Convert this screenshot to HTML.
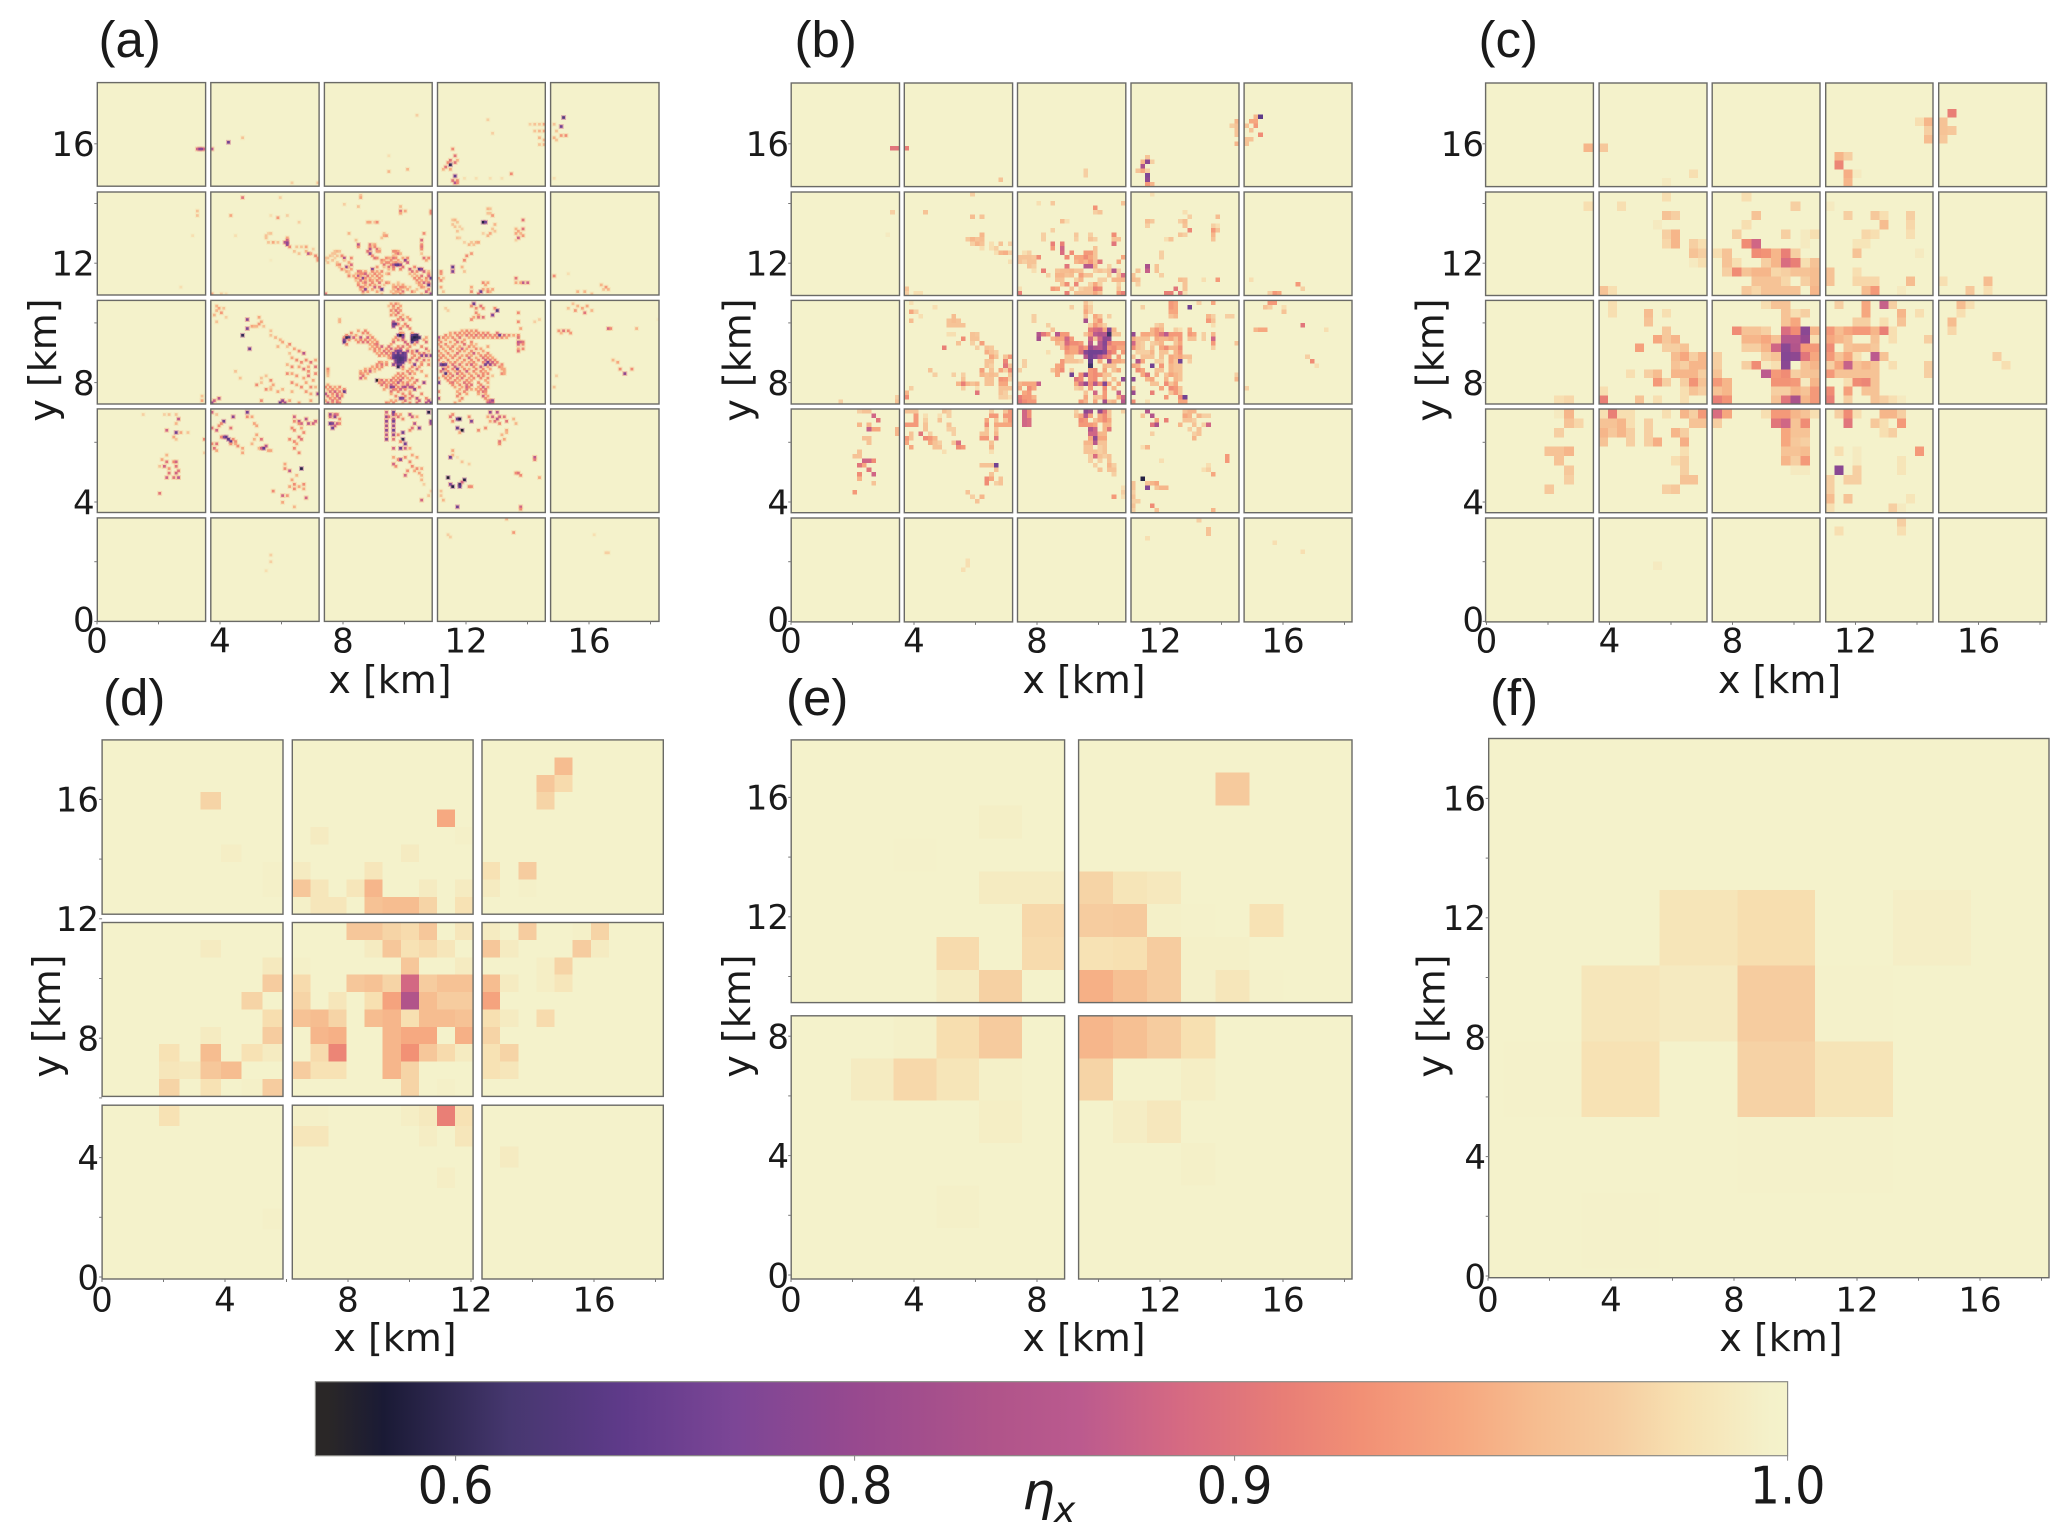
<!DOCTYPE html>
<html lang="en">
<head>
<meta charset="utf-8">
<title>Heatmaps of eta-x at six coarse-graining levels</title>
<style>
html,body{margin:0;padding:0;background:#fff}
svg{display:block}
text{fill:#1a1a1a;font-family:"DejaVu Sans","Liberation Sans",sans-serif}
</style>
</head>
<body>
<svg id="figure" xmlns="http://www.w3.org/2000/svg" width="2067" height="1540" viewBox="0 0 2067 1540">
<defs><linearGradient id="cbar-gradient" x1="0" y1="0" x2="1" y2="0"></linearGradient></defs>
<rect width="2067" height="1540" fill="#fff"/>
</svg>
<script>
// ---------- chart data ----------
const xTickLabels = [0, 4, 8, 12, 16];
const yTickLabels = [0, 4, 8, 12, 16];
const minorTickKm = [2, 6, 10, 14, 18];
const cbarTicks = [0.6, 0.8, 0.9, 1.0];
const cbarEta = [0.536, 0.564, 0.627, 0.684, 0.74, 0.8, 0.837, 0.859, 0.886, 0.909, 0.923, 0.941, 0.955, 0.969, 0.981, 0.997, 1.0];
const cbarColors = ['#2a2727','#1a1a35','#46376f','#5f3a8a','#7c4696','#97498f','#b0548a','#bb5a8e','#d66a82','#e87e76','#f29075','#f6a880','#f6bd90','#f6cda0','#f7e1b2','#f4f1ca','#f4f2cb'];

// Heatmap cells per block: [blockCol, blockRow, rows]; each row = [rowIndex, col, etaPercent, col, etaPercent, ...]
const panelA = [
[0,0,[[29,42,88,43,78,44,78,45,88]]],
[1,0,[[29,0,86],[26,7,72],[24,13,96],[44,34,97,45,96]]],
[2,0,[[14,39,97],[39,27,95],[38,35,95],[32,27,98]]],
[3,0,[[29,6,92],[32,7,90],[34,5,90,8,95],[35,7,90,4,92],[36,5,60],[37,3,90],[38,2,95,5,94],[41,7,70],[43,6,90,8,92],[44,7,85,8,92],[42,11,98,16,98,22,98,27,98],[40,31,92],[16,21,97],[22,23,97],[18,39,97,41,96,43,96,45,94],[21,41,96,43,95,45,94],[24,43,95],[25,45,95],[27,43,96,45,95]]],
[4,0,[[15,5,66],[19,4,72],[18,1,96],[21,2,96],[24,1,95],[25,2,96],[23,6,92,4,93],[42,1,98]]],
[0,1,[[10,42,96],[8,42,96],[19,40,98],[42,35,98]]],
[1,1,[[2,13,90,29,97],[10,8,94,25,98,32,97],[11,28,93],[13,37,97],[19,10,98,23,96],[18,24,97,25,96],[20,23,96,32,94],[22,24,96,26,94,28,96,31,85,32,78],[21,32,88],[23,32,80],[24,33,92,36,96,38,96,40,94],[25,43,97],[26,35,96,40,95],[27,37,96,41,86,42,94],[28,44,92],[29,45,93],[30,25,99,45,93],[45,0,94,4,97,6,98]]],
[2,1,[[1,15,96],[2,15,94],[5,8,97],[6,14,96,32,95],[8,32,90,34,94,45,92],[9,32,94,45,92],[13,18,94,19,94,21,96,22,92],[18,10,95,25,96,42,92],[19,25,94,26,93],[20,24,96],[21,13,96,41,89],[23,14,85,19,90,20,96,21,94,41,92],[24,14,92,19,92,21,92,41,90],[25,19,85,22,90,23,96,41,92],[26,4,96,5,95,6,96,18,90,22,93,23,93,29,92,30,92,31,94],[27,3,96,4,96,19,78,30,93,31,90,32,95,41,96],[28,2,96,3,97,5,96,7,92,20,92,29,95,30,96],[29,0,96,1,96,4,97,8,85,11,92,21,90,22,92,26,92,27,94,28,95,29,90,30,92,33,94,35,92,42,90,44,92],[30,0,97,3,96,8,96,24,92,25,94,28,92,31,94,34,80,43,94],[31,1,96,5,96,10,94,24,94,26,92,27,92,29,94,30,92,32,95,35,88],[32,5,94,6,92,11,89,25,90,28,92,29,85,30,70,31,68,32,80],[33,6,96,9,80,10,95,22,93,25,96,27,90,29,90,33,90,38,92],[34,7,92,8,96,11,94,20,78,27,95,29,92,32,92,36,88,40,70,41,80],[35,9,94,10,96,14,90,15,92,17,94,20,92,22,94,24,92,37,90,39,92,42,88,44,95],[36,10,96,13,96,14,94,15,92,16,92,17,88,19,96,21,92,23,94,26,96,27,93,36,95,38,95,44,92],[37,10,92,12,94,14,86,15,94,18,90,20,94,22,92,24,94,37,96,39,94,41,90,44,88],[38,13,92,14,94,16,78,17,92,19,94,21,96,23,92,38,92,40,92,43,92,45,72],[39,13,96,15,90,17,94,19,92,20,94,22,92,24,95,39,92,41,94,43,94],[40,14,94,16,94,17,90,20,92,23,90,26,92,27,94,31,96,39,96,40,92,42,88,44,90],[41,14,92,17,94,19,92,21,94,25,96,29,95,31,95,33,94,40,94,41,94,44,70],[42,15,90,16,92,18,96,21,88,23,90,29,94,30,92,32,92,33,92,34,94,36,96,41,92,42,94],[43,15,94,17,78,20,94,24,70,29,95,31,90,32,94,35,94,39,96,44,92],[44,16,90,18,94,22,94,28,96,30,94,31,94,33,90,37,92,38,96,43,88],[45,0,90,16,96,24,96,29,94,30,96,32,92,33,96,41,96,45,80]]],
[3,1,[[7,21,95,22,96],[9,21,96,22,96],[10,23,93],[12,6,96,7,95,36,90],[13,8,96,19,58,20,72],[14,6,96,24,95],[15,7,96,9,97],[16,10,97,23,96,36,90,33,95],[17,8,96,24,96,34,94],[18,22,94,19,97,33,94,35,95],[19,21,95,36,93],[20,34,88,8,96,9,97],[21,33,97],[22,11,97,14,96,16,95,17,94],[23,13,95,15,96],[27,14,93],[28,12,92],[30,11,92],[33,10,95,6,70],[35,11,96,6,75,1,92],[36,1,93],[38,0,94,2,96,33,90],[39,1,92],[40,33,94,36,86,38,88,35,94,19,92,21,94],[41,20,94],[42,1,94,14,94],[43,19,94,21,94,23,94],[44,2,96,18,72,21,92,22,95,14,92],[45,17,90]]],
[4,1,[[37,1,92],[36,7,98],[44,11,95,14,95],[45,17,96],[41,21,95],[42,23,93],[43,24,95,22,96]]],
[1,2,[[2,2,95],[3,3,94,5,96],[4,2,95],[5,4,93],[6,1,95],[7,6,97,20,94],[8,15,78],[9,2,96,21,94],[10,20,93],[11,17,94,18,95,19,95,22,96],[12,15,75],[13,25,96],[15,13,60,25,96],[16,27,95],[17,29,95],[18,30,94],[19,33,92],[20,28,95,32,96],[21,16,72,35,94],[22,37,92],[23,39,85,33,96],[25,34,94],[26,36,92,40,92,44,94],[27,38,92,42,90],[28,32,95],[29,44,90,41,94,34,92,37,94],[30,39,90],[31,10,96,41,92],[32,44,92,32,92,34,94],[33,36,93,41,90,23,96],[34,12,96,21,96,39,94],[35,43,94,25,92],[36,21,96,34,92,40,94],[37,19,92,26,94,36,94],[38,25,96,38,92,42,92,44,95],[39,23,92,25,95,30,95],[40,28,94,34,95,40,93],[41,42,94,45,80],[43,3,85],[44,21,92,30,80,33,94,42,94,1,88],[45,29,70,31,82,37,94,0,80]]],
[2,2,[[1,28,94,30,92,31,95],[2,27,96,29,92,32,94],[3,29,94,31,92],[4,28,92,30,90,32,93],[5,29,95,31,90],[6,28,93,30,92,33,95],[7,32,92,35,94],[8,6,95,31,92,33,90,36,92],[9,6,95,29,85],[10,29,70,30,68,31,90,34,92],[11,29,75,33,94,35,90],[12,32,90,36,92],[13,14,94,17,92],[14,11,92,16,92,18,92,32,92,33,94,37,93],[15,9,92,13,94,19,95,31,70,32,55,33,68,37,70,38,65,39,62],[16,8,92,9,60,10,65,12,88,15,85,18,88,20,92,30,92,33,80,37,62,38,58,39,60,40,62,43,94],[17,8,75,10,92,13,94,15,92,17,92,19,94,21,94,29,94,31,92,33,90,37,60,38,62,39,64,42,94],[18,8,68,14,92,16,90,18,90,20,94,22,92,29,90,34,88,37,68,39,88,43,90],[19,9,92,19,94,21,92,22,90,28,94,35,90,38,94],[20,20,94,22,92,24,88,27,90,31,92,33,90,36,92,41,92],[21,19,95,21,92,23,92,26,92,28,88,30,92,32,88,35,94,43,90],[22,21,92,23,94,25,90,27,92,30,80,31,72,32,75,35,84,37,92,39,82,44,95],[23,22,94,24,92,26,90,28,92,29,75,31,68,33,68,34,72,37,92,40,92,42,90],[24,23,92,25,94,27,92,29,72,30,68,31,66,32,68,33,70,34,72,38,92,41,78,43,78,45,78],[25,27,94,28,90,29,70,30,66,31,66,32,64,33,66,34,70,37,92,40,92],[26,30,72,31,66,32,64,33,66,34,72,36,90,39,88,42,90,44,94],[27,23,92,24,94,26,94,30,76,31,66,32,66,33,70,36,94,41,94],[28,22,92,24,90,26,92,29,78,31,70,32,72,38,75,41,92,44,92],[29,20,94,22,92,24,92,31,60,33,90,37,92,40,94],[30,1,92,17,94,19,92,21,94,23,94,33,94,36,94,39,90],[31,1,94,15,94,17,92,19,88,21,96,35,92,37,94,41,94],[32,1,95,15,92,16,94,18,94,31,92,33,92,36,90,38,94],[33,1,96,16,90,30,94,32,92,34,94,43,94],[34,15,88,17,94,29,92,31,92,33,90,35,94,37,92],[35,22,50,23,94,24,90,26,92,28,90,30,92,32,88,36,94,39,90],[36,23,92,24,94,25,90,27,94,29,92,31,85,33,92,35,92,38,92,42,80],[37,1,94,24,90,26,92,28,88,30,92,33,94,35,88,37,94],[38,0,92,2,92,4,94,6,92,26,92,28,75,29,80,31,92,33,85,34,82,36,85,37,85,40,92],[39,1,94,3,92,5,94,8,92,25,94,29,90,30,92,32,88,34,92,38,80],[40,2,90,4,88,6,92,8,70,28,90,31,92,36,94],[41,0,85,3,92,5,90,7,94,28,94,33,92,36,92,41,92],[42,1,90,3,94,5,88,7,92,30,92,34,92,37,90],[43,2,92,4,92,6,88,32,72,33,76,36,92,39,85,43,92],[44,0,94,3,90,5,92,28,94,30,94,34,90,40,88,44,85],[45,1,88,3,92,5,90,6,92,26,92,27,94,29,92,33,94,36,92,39,90,43,85,45,70]]],
[3,2,[[1,15,72],[2,14,92,18,90],[3,3,97,16,92,19,92,24,92],[4,4,97,25,66],[5,16,92,34,92],[6,17,94,23,75],[7,15,94,17,90,19,90],[8,14,92,43,97],[9,34,92,41,97],[12,35,94],[13,10,94,12,92,14,93,16,92],[14,5,94,7,92,9,92,11,93,13,92,15,94,17,92,19,92,21,92,25,90],[15,3,92,5,94,8,92,10,94,12,90,14,92,16,90,18,92,20,90,22,92,24,92,26,72,28,90,30,92,32,94,34,92],[16,0,85,2,92,4,94,6,92,9,90,13,94,15,92,17,94,19,92,21,94,23,92,25,92,27,92,29,94,34,90],[17,0,92,3,94,7,92,11,94],[18,1,92,5,94,8,90,10,92,14,92,34,86,35,88,36,90],[19,0,94,3,92,7,94,11,90,14,94,16,96,34,88,36,92],[20,1,92,4,94,6,92,9,94,13,92,15,94,21,94],[21,2,94,5,92,8,94,10,88,12,94,16,92,18,94,34,94,36,92],[22,0,92,3,94,6,94,9,92,11,94,14,92,19,94,34,90],[23,1,94,4,92,8,90,13,94,15,88,17,94,21,92],[24,0,94,2,92,5,94,7,92,10,94,12,92,14,94,18,92,20,92,22,94],[25,1,92,3,94,6,92,9,92,13,88,16,94,19,90,21,92,23,94],[26,0,92,4,92,8,94,11,92,14,92,17,92,20,88,22,90,24,92],[27,2,94,5,94,7,92,10,94,13,94,15,92,19,92,21,72,23,88,25,92],[28,1,72,2,66,3,72,6,90,9,90,12,92,14,88,16,94,20,72,22,80,24,90,27,92],[29,4,92,7,88,10,94,15,92,18,88,21,94,26,92,27,94],[30,2,82,3,92,6,92,8,75,11,92,13,94,16,92,19,92,22,94,27,94,28,94],[31,1,90,4,92,7,94,9,92,12,88,15,92,18,92,20,94,28,94],[32,3,66,5,92,8,88,10,92,13,94,16,94,19,92,21,92,27,92,28,94],[33,2,92,4,94,6,90,9,94,11,92,14,92,17,90,19,92,23,96],[34,0,94,3,92,5,92,8,92,10,90,13,94,15,92,18,92,21,92],[35,4,92,7,92,9,94,12,92,14,94,20,94],[36,0,72,5,92,6,90,8,94,11,90,13,92,17,92,21,94],[37,6,92,9,92,12,90,14,90,18,92],[38,7,94,10,94,12,88,13,92,17,94,19,88,21,94],[39,9,94,12,90,14,94,16,94,18,92,20,90],[40,0,92,8,94,11,92,17,92,19,90,20,92],[41,9,92,12,94,17,94,20,94],[42,8,92,19,88,21,94],[43,0,85,10,92,20,92],[44,9,94,21,92,22,88,23,80],[45,7,94,21,88,22,85,23,88]]],
[4,2,[[1,9,96],[2,11,95,15,94],[3,13,94,7,96],[4,17,95,10,93],[5,14,90],[13,3,93,5,90,7,92],[14,8,93,4,95],[12,24,88,25,92,36,95],[26,26,95],[27,28,94],[30,29,92,34,92],[32,31,78],[33,2,97],[38,1,96],[8,45,99]]],
[0,2,[[42,44,96],[44,44,94]]],
[0,3,[[2,19,97,28,97,30,96,33,96],[4,34,86],[6,33,95],[9,29,88],[10,33,72,35,94,38,96],[12,32,94],[13,33,96,45,92],[19,45,97],[20,29,95],[22,27,94],[23,29,90,32,92,33,88],[25,26,96,28,88,33,90],[26,30,93],[27,34,90],[28,30,90,33,88],[30,29,88,32,90,34,86],[37,26,90]]],
[1,3,[[1,0,88,15,72],[2,2,96],[3,9,78,15,92,17,94],[5,5,72],[6,4,92,18,94],[7,3,92,19,94],[8,0,90,8,90],[9,2,88],[11,19,94],[12,6,68,5,75,4,92],[13,7,68,9,92,21,90,18,95],[14,8,70,10,92],[15,0,92,2,90,8,92,10,94,17,95],[16,11,92,23,85],[17,13,94,1,90,20,95,21,88,22,70],[18,2,94,24,94,25,94],[19,13,94],[3,35,88],[4,40,85],[5,35,92,37,85,44,88],[6,38,88,41,85,43,88,37,92],[8,34,92,38,94],[9,35,92],[10,39,92],[12,37,90],[13,33,92,38,90],[14,35,92],[15,36,94],[17,35,92],[19,37,92],[24,31,94],[26,31,92,38,58],[27,33,86],[29,36,95],[31,34,94],[33,35,92,39,92],[34,33,94,37,94],[35,35,92,39,94],[36,26,92],[38,30,88,32,93],[39,40,88],[41,30,94],[43,35,95]]],
[2,3,[[1,26,88,29,72,44,58],[2,2,80,4,88,5,90,29,80,30,92,32,94,36,85],[3,2,88,4,78,26,80,27,90,31,90,37,88,39,94],[4,6,92,29,85,33,92],[5,26,78,29,72,45,75],[6,2,70,3,75,5,88,6,92,38,85,45,80],[7,4,88,26,82,29,80],[8,3,72,37,90,40,75],[9,26,78,29,72,36,92],[10,33,72],[11,26,85,29,80,31,92],[13,26,78,29,90,33,60],[14,32,92],[15,34,72],[17,29,88,32,70,34,88,36,94],[20,37,94],[21,29,94,34,92,39,94],[22,31,92,32,78],[23,36,92],[24,29,88],[25,30,92,37,92],[26,39,92,41,94],[27,38,94,35,92],[28,40,94],[29,34,88,41,95],[31,41,95],[33,42,97],[36,45,97],[38,44,96],[40,41,88]]],
[3,3,[[1,22,80,25,85],[2,6,92],[3,5,90,13,92,21,94,23,88,26,88,28,90],[4,8,70,9,58,25,85,32,95],[5,6,92,14,75,24,90,22,94,29,90],[6,26,92,33,95],[8,8,70,20,92],[9,10,55,17,92,29,94],[10,9,94,29,95],[11,27,95],[13,28,94],[14,26,90],[15,26,92],[18,6,94],[20,6,95],[21,5,72,8,98,41,86],[22,41,90],[23,10,96],[24,13,97],[28,33,92,34,90],[29,35,92],[30,43,94,4,55],[31,11,58],[32,10,88],[33,5,75,9,62],[34,6,58,9,68,13,92,14,92],[36,1,96],[38,1,96],[40,2,95],[43,8,72,35,88],[44,35,92]]],
[3,4,[[0,29,95],[6,32,93],[7,4,97],[8,5,97]]],
[1,4,[[16,25,97],[19,25,97],[23,23,98]]],
[4,4,[[7,18,98],[15,23,97,24,97]]]
];

const panelB = [
[0,0,[[14,21,90,22,90]]],
[1,0,[[14,0,91],[21,20,96]]],
[2,0,[[19,14,97],[20,14,97]]],
[3,0,[[18,2,83],[17,3,78,2,95,4,97],[16,3,96],[19,1,96,2,94,3,97],[20,3,75],[21,3,78],[22,4,95,3,93],[8,22,95],[9,22,96,21,97],[10,22,96],[11,22,96],[13,22,95]]],
[4,0,[[7,3,68,2,95],[8,1,94,2,94],[9,0,96,2,93],[10,1,96],[11,3,92],[12,0,96,1,96],[13,0,96]]],
[0,1,[[4,21,97],[9,20,99]]],
[1,1,[[0,14,97],[4,4,96],[5,14,95.5,16,96],[9,16,95],[10,15,96,13,96.5,16,95.5,14,95],[11,15,95,16,96,14,97,18,98,20,96,22,97],[12,16,98,19,97,18,98],[13,20,95,21,94.5,19,98,22,97],[15,22,98],[21,0,96],[22,0,97,2,98,3,98]]],
[2,1,[[2,4,98,7,96.5,22,96],[3,16,92.5],[4,17,96,16,97],[6,9,95.5,10,98],[8,7,97],[9,5,97,12,96.5,15,97,20,92],[10,5,97,12,97,15,96,16,97,20,96,21,96],[11,7,91,9,91,20,90],[12,7,93,9,88,16,96],[13,9,89,11,92,14,93,15,93,16,96,2,97,1,98],[14,0,96,1,96,2,96,3,96.5,4,92,10,92,12,94,13,94,14,92,15,94,16,96,22,94],[15,0,96,1,97,2,96,3,96,12,95,13,94,14,95,15,93,16,96,17,90,21,94],[16,2,96,3,97,10,90,14,85,15,85,16,95,19,97],[17,3,98,5,91,8,96,9,95.5,10,95.5,11,95,12,96,13,96,16,97,17,96,18,97,19,96,20,85,21,97],[18,6,97,8,95,9,95,10,96,11,95.5,13,93.5,14,96,15,96,19,96,21,96,22,89],[19,8,96,9,96,12,97,13,95,17,97,18,97,20,95,21,95,22,95],[20,9,96,10,92,12,91.5,15,97,16,94,17,97,21,97],[21,0,98,7,93,8,94,11,96,13,97,14,96,15,96,16,91,17,92,21,96],[22,0,91,10,91,12,96,13,96,14,96,15,96,16,94,17,96,21,93,22,91]]],
[3,1,[[0,4,98],[4,11,98],[5,12,97,18,95.5],[6,3,95.5,4,96.5,10,97,11,95.5],[7,3,97,11,96,18,98,17,97],[8,12,91.5,18,96,17,93],[9,10,96,11,97,17,95],[10,17,96,8,96,7,98],[13,6,97],[14,6,97],[16,3,83,5,96],[17,3,87,5,96,1,96],[18,0,96,6,97],[19,0,95.5,1,96,18,93,10,95.5,11,96,15,98],[20,1,97,11,96],[21,9,90,11,96],[22,7,91,8,91,10,90,11,98]]],
[4,1,[[19,1,98],[20,11,93],[21,12,97],[22,6,93,7,94,5,97]]],
[0,2,[[21,22,97],[22,22,96,10,97]]],
[1,2,[[0,1,98],[1,6,98],[2,1,94,2,97],[3,3,98,10,95.5],[4,1,95.5,9,96,10,95.5,11,96],[5,9,96,10,96,11,96,12,96],[7,9,98,10,98,14,96,15,96.5],[8,12,92,14,96,15,96],[9,11,96,14,97,16,93.5],[10,8,91,15,97,17,96,18,96.5],[11,17,94.5,18,96,19,97],[12,18,94,19,96,21,96,22,93],[13,17,96,18,96,21,91.5],[14,17,96,18,97,21,90,22,96],[15,5,96,16,93.5,18,96,20,94,21,97,22,92],[16,6,97,10,97,12,97,16,95,17,96,18,95.5,19,96,22,96],[17,12,96,17,96,18,96,20,92.5,21,93,22,97],[18,11,95,12,91,13,95,14,96,15,95,17,96,18,96,20,94,21,94],[19,1,97,12,97,15,98,20,96,21,96,22,96],[20,0,95,15,90,20,96,21,97],[21,0,92,20,97,21,97,22,98]]],
[2,2,[[0,14,96,15,98],[1,11,97,14,95,15,97],[2,14,94,15,97],[3,3,97,14,96,16,94,17,96,19,97],[4,3,97,14,82,16,95,17,92.5],[5,6,97,15,97,16,93,17,95,18,97],[6,7,96,15,91,16,89,17,88,18,94,19,75,20,95],[7,4,84,5,90,6,93,8,85,9,93,10,93,14,96,15,93,16,86,17,84,18,85,19,62,20,96,21,96],[8,4,82,7,95,8,94,9,94,10,88,11,93,15,88,16,96,17,88,18,78,19,80],[9,8,95,9,96,10,89,11,92,12,92,13,93,15,85,16,100,17,85,18,76,19,90,20,93,21,93,22,93],[10,9,96,10,92,11,94,12,94,13,91,14,93,15,80,16,84,17,85,18,78,19,93,20,92,21,94,22,94],[11,6,98,10,93,11,94,12,94,13,90,14,76,15,72,16,72,17,72,18,76,19,90,20,92,22,93],[12,10,96,11,96,14,85,15,72,16,76,17,85,18,90,19,92,21,93],[13,1,97,9,93,10,96,11,96,12,96,13,97,15,70,16,100,17,94,19,80,20,94,21,94,22,95],[14,1,97,8,94,9,93,15,62,18,95,19,96,20,96],[15,0,97,7,96,8,94,9,92,11,97,15,93,16,92,18,94,20,96,21,94],[16,8,94,11,72,13,92,14,80,15,93,16,92,17,93,18,96,19,96],[17,12,90,13,92,15,93,16,92,18,96,20,96,22,78],[18,0,95,1,94,2,94,3,94,4,87,12,94,13,88,14,80,15,92,16,85,17,92,18,75,19,94,21,94],[19,0,94,2,92,3,94,12,97,13,96,15,93,18,92,20,95],[20,1,94,2,93,14,96,16,88,18,93,21,87],[21,0,91,1,93,2,93,3,95,14,94,16,96,17,96,18,93,21,94,22,88],[22,0,90,1,92,2,93,3,93,13,93,14,95,16,94,18,82,19,96,20,95,22,85]]],
[3,2,[[0,8,93,9,94,14,97,17,94],[1,2,97,12,72,8,93,9,94],[2,8,94,9,94],[3,8,96,9,95,16,95,17,97,20,97,21,97],[4,16,93,17,96],[5,17,98,5,97,6,96],[6,4,95,5,93,6,95,9,97,10,98,12,94],[7,0,79,2,94,3,94,4,95,5,93,6,90,7,86,8,93,9,93,10,93,12,93,13,94,15,97,17,95],[8,0,94,1,96,2,96,3,96,5,94,6,95,7,95,8,94,9,96,10,93,12,96,13,96,15,97,17,88],[9,0,88,1,96,2,97,4,97,5,96,6,95,9,96,10,94,17,93,22,96],[10,0,92,1,96,2,97,4,96,6,94,7,92,8,95,9,95,10,92,17,97],[11,1,97,2,97,3,97,4,95,6,96,7,96,9,95,10,93],[12,0,96,2,96,3,96,4,96,6,96,8,94,9,95,10,94,11,96,12,96],[13,1,84,2,94,5,97,6,97,8,94,9,96,10,72,12,97],[14,0,94,1,95,4,72,6,93,8,95,9,96,10,96],[15,1,92,2,94,5,96,6,96,8,95,9,96,10,96],[16,2,94,3,90,5,95,7,96,8,94,9,95,10,96,22,97],[17,0,78,3,95,4,94,7,95,9,95,10,96,22,95],[18,4,96,5,96,7,92,8,96,9,94],[19,0,96,6,94,8,92,9,93,10,96],[20,0,80,4,91,8,96,9,93,10,96],[21,7,93,10,92,11,72],[22,0,92,3,98,10,94,11,94]]],
[4,2,[[0,5,93,6,93],[1,4,96,8,98,5,97],[2,8,96],[6,3,94,4,94,2,95,17,98],[5,12,90],[12,13,97],[13,14,92],[14,15,98],[19,0,97]]],
[0,3,[[0,14,97,15,96,16,96],[1,17,88],[2,18,90],[3,16,95,14,95],[4,16,87,17,94,18,94,22,95],[5,22,95],[6,15,96,16,96],[7,16,96],[9,14,96],[10,13,96,14,96],[11,15,88,16,88,17,92],[12,14,90,15,94],[13,16,90],[14,17,88,14,92],[15,14,95],[16,17,96],[18,13,93]]],
[1,3,[[0,0,96,1,96,2,96,8,96,9,97,18,97,21,96,22,93],[1,2,93,4,98,7,98,9,97,18,93,19,93,21,93,22,93],[2,2,93,4,97,7,96,17,94,19,96,21,96,22,93],[3,0,93,1,93,2,93,4,96,9,96,17,92,19,94,20,94,21,94,22,94],[4,4,96,9,97,10,97,17,96,19,96],[5,1,96,3,90,5,97,10,97,16,96,17,96,19,95],[6,0,93,1,96,4,92,5,93,6,95,16,93,17,93,19,90],[7,0,94,5,94,6,96,7,97,10,96,11,89,18,96],[8,1,94,6,96,7,96,11,92,12,93,18,95],[9,18,98,8,98],[12,16,96,17,96,19,72,18,96],[13,19,96],[14,18,96],[15,17,92,18,94,20,96],[16,17,92,20,96,19,97],[18,13,96],[19,14,97,16,95],[20,15,96]]],
[2,3,[[0,1,88,2,92,12,97,14,78,15,82,17,80,18,90,19,96,22,97],[1,1,88,2,92,12,96,13,94,14,85,15,94,17,94,18,92,19,96],[2,1,88,2,89,13,92,14,93,16,96,17,94,18,92,19,94],[3,1,88,2,89,13,93,14,93,15,93,16,94,18,95,19,95],[4,15,84,16,88,18,95,19,90],[5,15,88,16,88,17,95,18,95],[6,15,94,16,78,17,94,18,94],[7,14,95,15,95,16,85,17,96,18,96],[8,14,96,15,96,17,97,18,96],[9,14,96,15,96,16,96,17,97,18,96],[10,15,97,16,89,17,96,18,97,19,96],[11,15,97,17,97,19,96],[12,16,97,19,95,20,97],[13,17,96,19,96,20,96],[14,20,97],[17,22,98],[18,22,97],[19,20,93,22,98]]],
[3,3,[[0,3,84,12,95,13,95,11,96],[1,2,96,4,84,11,94,12,95,14,95,15,97,16,97],[2,5,94,7,91,11,96,12,96,13,97],[3,4,90,5,83,10,95,13,96,15,97,16,88],[4,14,96,12,97],[5,13,97,14,96,4,97],[6,13,95],[8,3,95,2,98],[10,20,93],[11,20,93,6,98],[12,16,98],[13,15,98,16,97],[14,17,94],[15,2,58],[16,0,96,3,96,4,95,5,94],[17,3,76,0,96,5,96,7,95,6,95],[18,0,97],[19,0,96],[20,0,97,1,97],[21,0,96,4,92],[22,0,97,17,95,5,96]]],
[3,4,[[0,14,97],[2,16,96],[3,16,96],[4,3,98]]],
[1,4,[[9,13,98],[10,13,98],[11,12,98]]],
[4,4,[[7,12,98],[5,6,98]]]
];

const panelC = [
[0,0,[[7,10,95]]],
[1,0,[[7,0,96.5],[10,10,98],[11,7,99]]],
[3,0,[[8,1,95,2,97],[9,1,91.5],[10,2,94.5,3,99],[11,2,95],[4,10,98,11,95],[5,11,97],[6,11,95.5]]],
[4,0,[[3,1,91],[4,0,96],[5,0,96,1,96.5],[6,0,96.5]]],
[0,1,[[1,10,98]]],
[1,1,[[0,7,98],[1,2,98],[2,7,96,8,97],[3,6,99],[4,7,97,8,95],[5,7,97.5,8,95,10,97,11,98],[6,10,96,11,97],[7,10,99,11,98],[10,0,96,1,98]]],
[2,1,[[0,3,98],[1,8,97],[2,4,96],[3,3,98],[4,2,97,7,97,9,99,10,98],[5,3,92,4,88,9,99],[6,0,98,1,96,4,92,5,92.5,6,95,7,91,8,97],[7,1,96,2,98,5,97,6,95,7,89,8,91,9,98,10,96],[8,1,97,2,92,3,96,4,95,5,95,6,97.5,7,97,8,96,9,96,10,95.5],[9,4,96,5,96,6,96,7,97.5,9,97,10,95.5],[10,3,96.5,4,97.5,5,96,6,96,7,96,8,96,10,95]]],
[3,1,[[1,0,99],[2,2,97,5,96.5,6,98,9,97],[3,6,95.5,9,97.5],[4,9,98,4,97.5,5,98],[5,3,98.5,4,98.5],[6,3,96,10,99],[8,0,96,3,98],[9,0,96,3,97.5,4,97.5,5,97.5,9,95.5],[10,4,95.5,5,93,8,99]]],
[4,1,[[9,5,95.5,0,98],[10,3,96.5,5,98]]],
[0,2,[[11,7,98,8,97.5]]],
[1,2,[[0,1,98],[1,1,98,5,95.5,7,98],[2,5,96],[3,7,96.5],[4,6,94,7,96.5,8,95],[5,4,93.5,7,97,8,97,9,96],[6,8,95.5,9,94,10,97,11,95],[7,8,96,9,97,10,95,11,95],[8,3,98,5,97,6,95.5,8,95,9,95,10,95,11,97],[9,6,93,7,97,9,97,10,92.5,11,96],[10,0,98,9,98,10,96,11,97],[11,0,91,4,96,6,98,9,98]]],
[2,2,[[0,5,98,6,96,7,96],[1,7,96,8,98,9,97],[2,7,96,8,94],[3,2,92,3,96,4,96,5,97,7,89,8,92,9,77,10,95],[4,3,95,4,95,5,94,6,96,7,85,8,85,9,80,10,98],[5,3,97,4,97,5,95,6,88,7,77,8,84,9,93,10,93],[6,0,97,5,97,6,96,7,76,8,78,9,90,10,94],[7,0,97,3,97,4,92,5,99,6,98,7,77,8,100,9,96,10,95],[8,0,96,5,86,6,93,7,92,8,97,9,96,10,96],[9,0,93,1,95,6,92.5,7,92.5,8,93,9,99,10,95],[10,0,96,1,95,6,97,7,97,8,95,9,96,10,93],[11,0,91,1,92.5,6,96,7,90,8,83,9,95,10,93]]],
[3,2,[[0,1,97,4,94,6,87,7,97],[1,4,94,8,95,10,98],[2,3,97,4,97,6,98,8,96],[3,0,93,1,95.5,2,94,3,93,4,93,5,95,6,91,7,98],[4,0,94,1,95,2,96,5,96,7,98,11,97],[5,0,92,2,96,3,95.5,4,95.5,5,96.5],[6,0,93,1,96,2,94,3,98,5,86,6,96],[7,0,97,1,94,2,87,3,96,4,95,5,96,7,98,11,97],[8,0,93,1,96,2,96,3,96,4,96,5,96,11,97],[9,2,98,3,92,4,91.5,5,96],[10,0,92,2,93.5,4,96,5,96],[11,0,91,2,97,5,96,6,97,7,98,8,99]]],
[4,2,[[0,2,95.5,3,98],[1,2,98],[2,1,95.5],[3,1,97.5],[6,6,97],[7,7,98]]],
[0,3,[[0,8,95,7,99],[1,8,96,9,97.5],[2,7,97],[4,6,96,7,96,8,95],[5,7,96],[6,8,96.5],[7,8,97],[8,6,96.5]]],
[1,3,[[0,0,98,1,91,2,98,3,98,7,98,9,95,10,97,11,93],[1,0,96,1,96,2,95,3,98,5,97,10,96,11,96],[2,0,95,1,96.5,2,95,3,97,5,97,8,95,9,97],[3,0,96,3,97,5,97,6,94.5,9,94.5],[4,9,98],[5,8,98,9,97],[6,9,97],[7,9,96,10,96],[8,7,97,8,96.5]]],
[2,3,[[0,0,89,1,94,5,98,6,93,7,93,8,95,9,96,10,98],[1,0,97,6,90,7,88,8,96,9,92],[2,7,94,8,96,9,96],[3,7,94,8,96.5,9,97],[4,7,96,8,96,9,95.5],[5,7,95,8,97,9,93],[6,8,99,9,99]]],
[3,3,[[0,1,97,2,92,3,98,6,95,7,95,8,97],[1,2,90,5,96.5,8,93,6,98],[2,6,98,7,97],[4,10,93,1,98,3,99],[5,8,98.5,3,99],[6,1,77,3,97,8,98.5],[7,0,97,2,97,3,97],[8,0,97],[9,0,95.5,2,96,9,98.5],[10,0,98,7,97,8,99]]],
[1,4,[[5,6,99]]],
[3,4,[[1,1,98,8,98],[0,8,97]]]
];

const panelD = [
[0,0,[[3,5,97],[6,6,99.3],[7,8,99.5],[8,8,99.5]]],
[1,0,[[4,8,93.5],[5,1,99,9,99.5],[6,6,99],[7,0,99,4,98.5],[8,0,96,1,98.5,3,98.5,4,94.5,7,99,9,99],[9,0,99.5,1,98.5,2,98.5,4,95.5,5,95,6,95,7,97,9,98]]],
[2,0,[[1,4,95],[2,3,96,4,97.5],[3,3,97],[7,0,98,2,96.5],[8,0,99,2,99.5]]],
[0,1,[[1,5,99],[2,8,98.8],[3,8,96.5],[4,7,97],[5,8,97.7],[6,5,99,8,96.5],[7,3,98,5,95,7,98,8,99],[8,3,98.5,4,98.8,5,96,6,95],[9,3,97,5,98,7,99.5,8,96.5]]],
[1,1,[[0,3,96,4,96,5,97,6,97.5,7,96,9,98.5],[1,4,99,5,96,6,98,7,97.5,8,98.5],[2,0,99.5,6,96,9,99],[3,0,97.5,3,96,4,95.5,5,97,6,87,7,96.5,8,95.5,9,95.5],[4,0,97,2,98.5,4,97.8,5,93,6,82,7,95,8,96.5,9,96.5],[5,0,95.5,1,95,2,97,4,95,5,94.5,6,97.8,7,95,8,95,9,95.5],[6,1,94.5,2,94,5,94.5,6,93.5,7,93.5,9,94],[7,1,97.5,2,90.5,5,94.5,6,91.5,7,96,8,97.5,9,99],[8,0,96.5,1,98,2,98,5,94.5,6,97],[9,6,97,8,99.5]]],
[2,1,[[0,0,99,2,96.5,5,99.5,6,97],[1,0,96,1,99,5,96.5,6,99],[2,3,99.3,4,97],[3,0,95,1,99,3,99.3,4,98.5],[4,0,93],[5,0,97.8,1,99,3,97.5],[6,0,97],[7,0,98,1,97],[8,0,98,1,98.5]]],
[0,2,[[0,3,98],[5,8,99.5]]],
[1,2,[[0,0,99.5,1,99.5,6,99.3,7,98.8,8,90,9,98],[1,0,98.5,1,98.5,7,99.2,9,98.5],[3,8,99.3]]],
[2,2,[[2,1,99]]]
];

const panelE = [
[0,0,[[2,5,99.4],[3,3,99.8],[4,5,99,6,99],[5,6,97.3],[6,4,97.5,6,97.5],[7,4,99,5,96.8]]],
[1,0,[[1,4,96.3],[4,0,97,1,98.3,2,98.7],[5,0,96.5,1,96.3,2,99.5,3,99.7,5,98],[6,0,98,1,97.8,2,96.5,3,99.5,4,99.5],[7,0,94,1,95.3,2,96.5,3,99.6,4,98.5,5,99.7]]],
[0,1,[[0,3,99.5,4,97.7,5,96.4],[1,2,99,3,97.3,4,98.3,5,99.5],[2,5,99.3],[4,4,99.5]]],
[1,1,[[0,0,94.5,1,95.3,2,96.5,3,97.8],[1,0,97,3,99.3],[2,1,99.2,2,98.6],[3,3,99.5]]]
];

const panelF = [
[0,0,[[2,3,98.5,4,97.9,6,99.4],[3,2,98.6,3,99,4,96.8,5,99.7],[4,1,99.8,2,98.2,4,97.2,5,98.4],[5,4,99.8,5,99.8],[6,2,99.8]]]
];

// ---------- layout ----------
const panelLayouts = [
 {id:'a',cells:panelA,halo:true,lighten:1,label:[98.5,57],xs:[[97.3,205.6],[210.8,319.1],[324.4,432.2],[437.5,545.3],[550.6,659]],ys:[[82.6,186.2],[192,295],[300.4,404],[408.9,512.5],[517.9,621.4]],nx:[46,46,46,46,46],ny:[46,46,46,46,46],ox:[0,0,0,0,0],xKm0:97,yKm0:621.4,yZero:619,tickBase:652.7,xLabel:[390,693],yLabel:[56,360],yTickRight:94.6},
 {id:'b',cells:panelB,lighten:1,label:[794.5,57],xs:[[791.2,899.5],[904.3,1012.6],[1017.5,1125.8],[1131,1239],[1244.1,1352]],ys:[[83,186.6],[192,295.5],[300.4,404],[409,512.7],[518,621.9]],nx:[23,23,23,23,23],ny:[23,23,23,23,23],ox:[0,0,0,0,0],xKm0:791,yKm0:621.4,yZero:619,tickBase:652.7,xLabel:[1084,693],yLabel:[750.4,360],yTickRight:789},
 {id:'c',cells:panelC,lighten:1,label:[1478.5,57],xs:[[1485.6,1593.4],[1599.1,1707],[1712.2,1820],[1825.7,1933],[1938.7,2046.5]],ys:[[83,186.6],[192,295.5],[300.4,404],[409,512.7],[518,621.9]],nx:[11,12,11,12,12],ny:[12,11,12,11,12],ox:[0,0,0,0,0],xKm0:1486.5,yKm0:621.4,yZero:619,tickBase:652.7,xLabel:[1779.6,693],yLabel:[1443.7,360],yTickRight:1484},
 {id:'d',cells:panelD,lighten:0.9,label:[103,715],xs:[[102.1,283],[292.3,473.1],[482,663.3]],ys:[[739.9,914.2],[922.5,1096.4],[1105.2,1279]],nx:[8.75,10,10],ny:[10,10,8.4],ox:[0.25,0,0],xKm0:102,yKm0:1277,yZero:1277,tickBase:1311.6,xLabel:[395,1351],yLabel:[60,1016],yTickRight:99},
 {id:'e',cells:panelE,lighten:0.9,label:[786,715],xs:[[791.2,1064.6],[1078.6,1352]],ys:[[739.9,1002.6],[1015.8,1279]],nx:[6.4,8],ny:[8,6.2],ox:[0.6,0],xKm0:791,yKm0:1275,yZero:1275,tickBase:1311.6,xLabel:[1084,1351],yLabel:[750,1016],yTickRight:789},
 {id:'f',cells:panelF,lighten:1,label:[1490,715],xs:[[1488.7,2049]],ys:[[738.5,1277.7]],nx:[7.19],ny:[7.12],ox:[0.81],xKm0:1488,yKm0:1276,yZero:1276,tickBase:1311.6,xLabel:[1781,1351],yLabel:[1444.5,1016],yTickRight:1486}
];
const KM_X = 30.75, KM_Y = 29.85;
const CBAR = {x0:315.4,x1:1787.6,y0:1381.7,y1:1455.7};
const NS = 'http://www.w3.org/2000/svg';
const svg = document.getElementById('figure');

// ---------- scales ----------
const cbarAnchorEta = [0.6, 0.8, 0.9, 1.0];
const cbarAnchorFrac = [(455.6-315.4)/1472.2, (854.6-315.4)/1472.2, (1234.6-315.4)/1472.2, 1];
function etaToBarFrac(e){
  const a = cbarAnchorEta, f = cbarAnchorFrac;
  if (e <= a[0]) return Math.max(0, f[0] + (e-a[0])*(f[1]-f[0])/(a[1]-a[0]));
  for (let k=1;k<a.length;k++){ if (e<=a[k]) return f[k-1]+(e-a[k-1])*(f[k]-f[k-1])/(a[k]-a[k-1]); }
  return 1;
}
function hexToRgb(h){ return [1,3,5].map(p=>parseInt(h.substr(p,2),16)); }
function etaColor(e){
  if (e <= cbarEta[0]) return cbarColors[0];
  for (let k=1;k<cbarEta.length;k++){
    if (e <= cbarEta[k]){
      const t=(e-cbarEta[k-1])/(cbarEta[k]-cbarEta[k-1]);
      const A=hexToRgb(cbarColors[k-1]), B=hexToRgb(cbarColors[k]);
      return 'rgb('+A.map((v,n)=>Math.round(v+(B[n]-v)*t)).join(',')+')';
    }
  }
  return cbarColors[cbarColors.length-1];
}
function xScale(p,km){ return p.xKm0 + km*KM_X; }
function yScale(p,km){ return km===0 ? p.yZero : p.yKm0 - km*KM_Y; }

function addText(str,x,y,size,anchor,name){
  const el=document.createElementNS(NS,'text');
  el.textContent=str;
  el.setAttribute('x',x);
  el.setAttribute('y',y);
  el.setAttribute('font-size',size);
  el.setAttribute('text-anchor',anchor);
  
  
  svg.appendChild(el);
  return el;
}

// ---------- panels ----------
panelLayouts.forEach(function(p){
  const g=document.createElementNS(NS,'g');
  
  
  svg.appendChild(g);
  p.xs.forEach(function(xr,bc){ p.ys.forEach(function(yr,br){
    const bg=document.createElementNS(NS,'rect');
    bg.setAttribute('x',xr[0]); bg.setAttribute('y',yr[0]);
    bg.setAttribute('width',xr[1]-xr[0]); bg.setAttribute('height',yr[1]-yr[0]);
    bg.setAttribute('fill','#f4f2cb');
    
    
    g.appendChild(bg);
  });});
  // the finest panel is blurred in the source image: give its cells a pale halo, drawn first
  const passes = p.halo ? ['halo','cell'] : ['cell'];
  passes.forEach(function(pass){
    p.cells.forEach(function(block){
      const bc=block[0], br=block[1], rows=block[2];
      const xr=p.xs[bc], yr=p.ys[br];
      const w=(xr[1]-xr[0])/p.nx[bc], h=(yr[1]-yr[0])/p.ny[br];
      const pad = p.halo ? (pass==='halo' ? 1.3 : 0.2) : 0;
      rows.forEach(function(row){
        const j=row[0];
        for(let k=1;k<row.length;k+=2){
          const i=row[k], eta=row[k+1]/100;
          const x1=Math.max(xr[0],xr[0]+(i-p.ox[bc])*w-pad), x2=Math.min(xr[1],xr[0]+(i+1-p.ox[bc])*w+pad);
          const y1=Math.max(yr[0],yr[0]+j*h-pad), y2=Math.min(yr[1],yr[0]+(j+1)*h+pad);
          if(x2<=x1||y2<=y1) continue;
          const c=document.createElementNS(NS,'rect');
          c.setAttribute('x',x1.toFixed(2)); c.setAttribute('y',y1.toFixed(2));
          c.setAttribute('width',(x2-x1).toFixed(2)); c.setAttribute('height',(y2-y1).toFixed(2));
          if(pass==='halo'){
            c.setAttribute('fill',etaColor(1-(1-eta)*0.45));
            c.setAttribute('opacity','0.45');
          } else {
            c.setAttribute('fill',etaColor(1-(1-eta)*p.lighten));
          }
          if(!p.halo) c.setAttribute('shape-rendering','crispEdges');
          
          
          g.appendChild(c);
        }
      });
    });
  });
  p.xs.forEach(function(xr){ p.ys.forEach(function(yr){
    const fr=document.createElementNS(NS,'rect');
    fr.setAttribute('x',xr[0]); fr.setAttribute('y',yr[0]);
    fr.setAttribute('width',xr[1]-xr[0]); fr.setAttribute('height',yr[1]-yr[0]);
    fr.setAttribute('fill','none'); fr.setAttribute('stroke','#6a6a66'); fr.setAttribute('stroke-width','1.4');
    
    
    g.appendChild(fr);
  });});
  const bottom=p.ys[p.ys.length-1][1], left=p.xs[0][0];
  minorTickKm.concat(xTickLabels).forEach(function(km){
    const tx=document.createElementNS(NS,'line');
    const x=xScale(p,km);
    tx.setAttribute('x1',x); tx.setAttribute('x2',x); tx.setAttribute('y1',bottom); tx.setAttribute('y2',bottom+3);
    tx.setAttribute('stroke','#777'); tx.setAttribute('stroke-width','1');
    
    
    g.appendChild(tx);
    if(km<=16){
      const ty=document.createElementNS(NS,'line');
      const y=p.yKm0-km*KM_Y;
      ty.setAttribute('x1',left-3); ty.setAttribute('x2',left); ty.setAttribute('y1',y); ty.setAttribute('y2',y);
      ty.setAttribute('stroke','#777'); ty.setAttribute('stroke-width','1');
      
      
      g.appendChild(ty);
    }
  });
  const pl=addText('('+p.id+')',p.label[0],p.label[1],51,'start','panel-label-'+p.id);
  pl.setAttribute('style','font-family:"Liberation Sans",sans-serif');
  xTickLabels.forEach(function(v){ addText(String(v),xScale(p,v),p.tickBase,34,'middle','x-tick-label'); });
  yTickLabels.forEach(function(v){ addText(String(v),p.yTickRight,yScale(p,v)+12.3,34,'end','y-tick-label'); });
  addText('x [km]',p.xLabel[0],p.xLabel[1],38,'middle','x-axis-title');
  const yl=addText('y [km]',p.yLabel[0],p.yLabel[1],38,'middle','y-axis-title');
  yl.setAttribute('transform','rotate(-90 '+p.yLabel[0]+' '+p.yLabel[1]+')');
});

// ---------- colour bar ----------
const grad=document.getElementById('cbar-gradient');
cbarEta.forEach(function(e,k){
  const s=document.createElementNS(NS,'stop');
  s.setAttribute('offset',etaToBarFrac(e));
  s.setAttribute('stop-color',cbarColors[k]);
  grad.appendChild(s);
});
const bar=document.createElementNS(NS,'rect');
bar.setAttribute('x',CBAR.x0); bar.setAttribute('y',CBAR.y0);
bar.setAttribute('width',CBAR.x1-CBAR.x0); bar.setAttribute('height',CBAR.y1-CBAR.y0);
bar.setAttribute('fill','url(#cbar-gradient)');
bar.setAttribute('stroke','#8a8a86'); bar.setAttribute('stroke-width','1.2');


svg.appendChild(bar);
cbarTicks.forEach(function(t){
  const x=CBAR.x0+etaToBarFrac(t)*(CBAR.x1-CBAR.x0);
  const l=document.createElementNS(NS,'line');
  l.setAttribute('x1',x); l.setAttribute('x2',x); l.setAttribute('y1',CBAR.y1); l.setAttribute('y2',CBAR.y1+5);
  l.setAttribute('stroke','#888'); l.setAttribute('stroke-width','1');
  
  
  svg.appendChild(l);
  const lab=addText(t.toFixed(1),x,1503.5,52,'middle','colorbar-tick-label');
  lab.setAttribute('textLength','76');
  lab.setAttribute('lengthAdjust','spacingAndGlyphs');
});
const etaText=addText('η',1022,1509,52,'start','colorbar-title');
etaText.setAttribute('font-style','italic');
const etaSub=addText('x',1054,1522,36,'start','colorbar-title-subscript');
etaSub.setAttribute('font-style','italic');
</script>
</body>
</html>
